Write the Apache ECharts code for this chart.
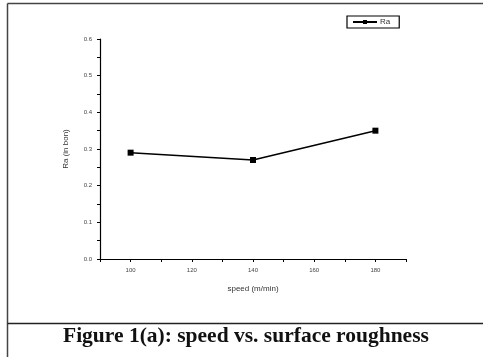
<!DOCTYPE html>
<html>
<head>
<meta charset="utf-8">
<script src="https://cdn.jsdelivr.net/npm/echarts@6/dist/echarts.min.js"></script>
<style>
  html, body { margin: 0; padding: 0; background: #fff; }
  #chart { width: 483px; height: 357px; }
</style>
</head>
<body>
<div id="chart"></div>
<script>
// data
const speeds = [100, 140, 180];
const raValues = [0.29, 0.27, 0.35];
const xLabels = [100, 120, 140, 160, 180];
const caption = 'Figure 1(a): speed vs. surface roughness';

const chart = echarts.init(document.getElementById('chart'), null, { renderer: 'canvas' });

const tickFont = { fontFamily: 'Liberation Sans, Arial', fontSize: 6, color: '#444' };

chart.setOption({
  animation: false,
  backgroundColor: '#fff',
  grid: { left: 100, top: 39, right: 77, bottom: 98 },
  legend: {
    data: ['Ra'],
    left: 347,
    top: 16,
    padding: [2, 9, 2, 5],
    itemWidth: 24,
    itemHeight: 5,
    itemGap: 4,
    borderColor: '#000',
    borderWidth: 1.2,
    borderRadius: 0,
    textStyle: { fontFamily: 'Liberation Sans, Arial', fontSize: 8, color: '#333', padding: [0, 0, 0, -2] }
  },
  xAxis: {
    type: 'value',
    min: 90,
    max: 190,
    interval: 10,
    name: 'speed (m/min)',
    nameLocation: 'middle',
    nameGap: 26,
    nameTextStyle: { fontFamily: 'Liberation Sans, Arial', fontSize: 8, color: '#333' },
    axisLine: { lineStyle: { color: '#000', width: 1.2 } },
    axisTick: { inside: false, length: 3, lineStyle: { color: '#000' } },
    axisLabel: Object.assign({
      margin: 8,
      formatter: v => (xLabels.includes(v) ? String(v) : '')
    }, tickFont),
    splitLine: { show: false }
  },
  yAxis: {
    type: 'value',
    min: 0,
    max: 0.6,
    interval: 0.05,
    name: 'Ra (in bon)',
    nameLocation: 'middle',
    nameGap: 30,
    nameTextStyle: { fontFamily: 'Liberation Sans, Arial', fontSize: 8, color: '#333' },
    axisLine: { show: true, lineStyle: { color: '#000', width: 1.2 } },
    axisTick: { inside: false, length: 3, lineStyle: { color: '#000' } },
    axisLabel: Object.assign({
      margin: 8,
      formatter: v => (Math.round(v * 100) % 10 === 0 ? v.toFixed(1) : '')
    }, tickFont),
    splitLine: { show: false }
  },
  series: [{
    name: 'Ra',
    type: 'line',
    data: speeds.map((s, i) => [s, raValues[i]]),
    symbol: 'rect',
    symbolSize: 6,
    lineStyle: { color: '#000', width: 1.5 },
    itemStyle: { color: '#000' }
  }],
  graphic: [
    { type: 'line', shape: { x1: 7.5, y1: 3.5, x2: 483, y2: 3.5 }, style: { stroke: '#444', lineWidth: 1.5 } },
    { type: 'line', shape: { x1: 7.5, y1: 3.5, x2: 7.5, y2: 357 }, style: { stroke: '#444', lineWidth: 1.5 } },
    { type: 'line', shape: { x1: 7.5, y1: 323.5, x2: 483, y2: 323.5 }, style: { stroke: '#222', lineWidth: 1.5 } },
    {
      type: 'text',
      left: 63,
      top: 325,
      style: {
        text: caption,
        font: 'bold 21.5px "Liberation Serif", "Times New Roman", serif',
        fill: '#111'
      }
    }
  ]
});
</script>
</body>
</html>
